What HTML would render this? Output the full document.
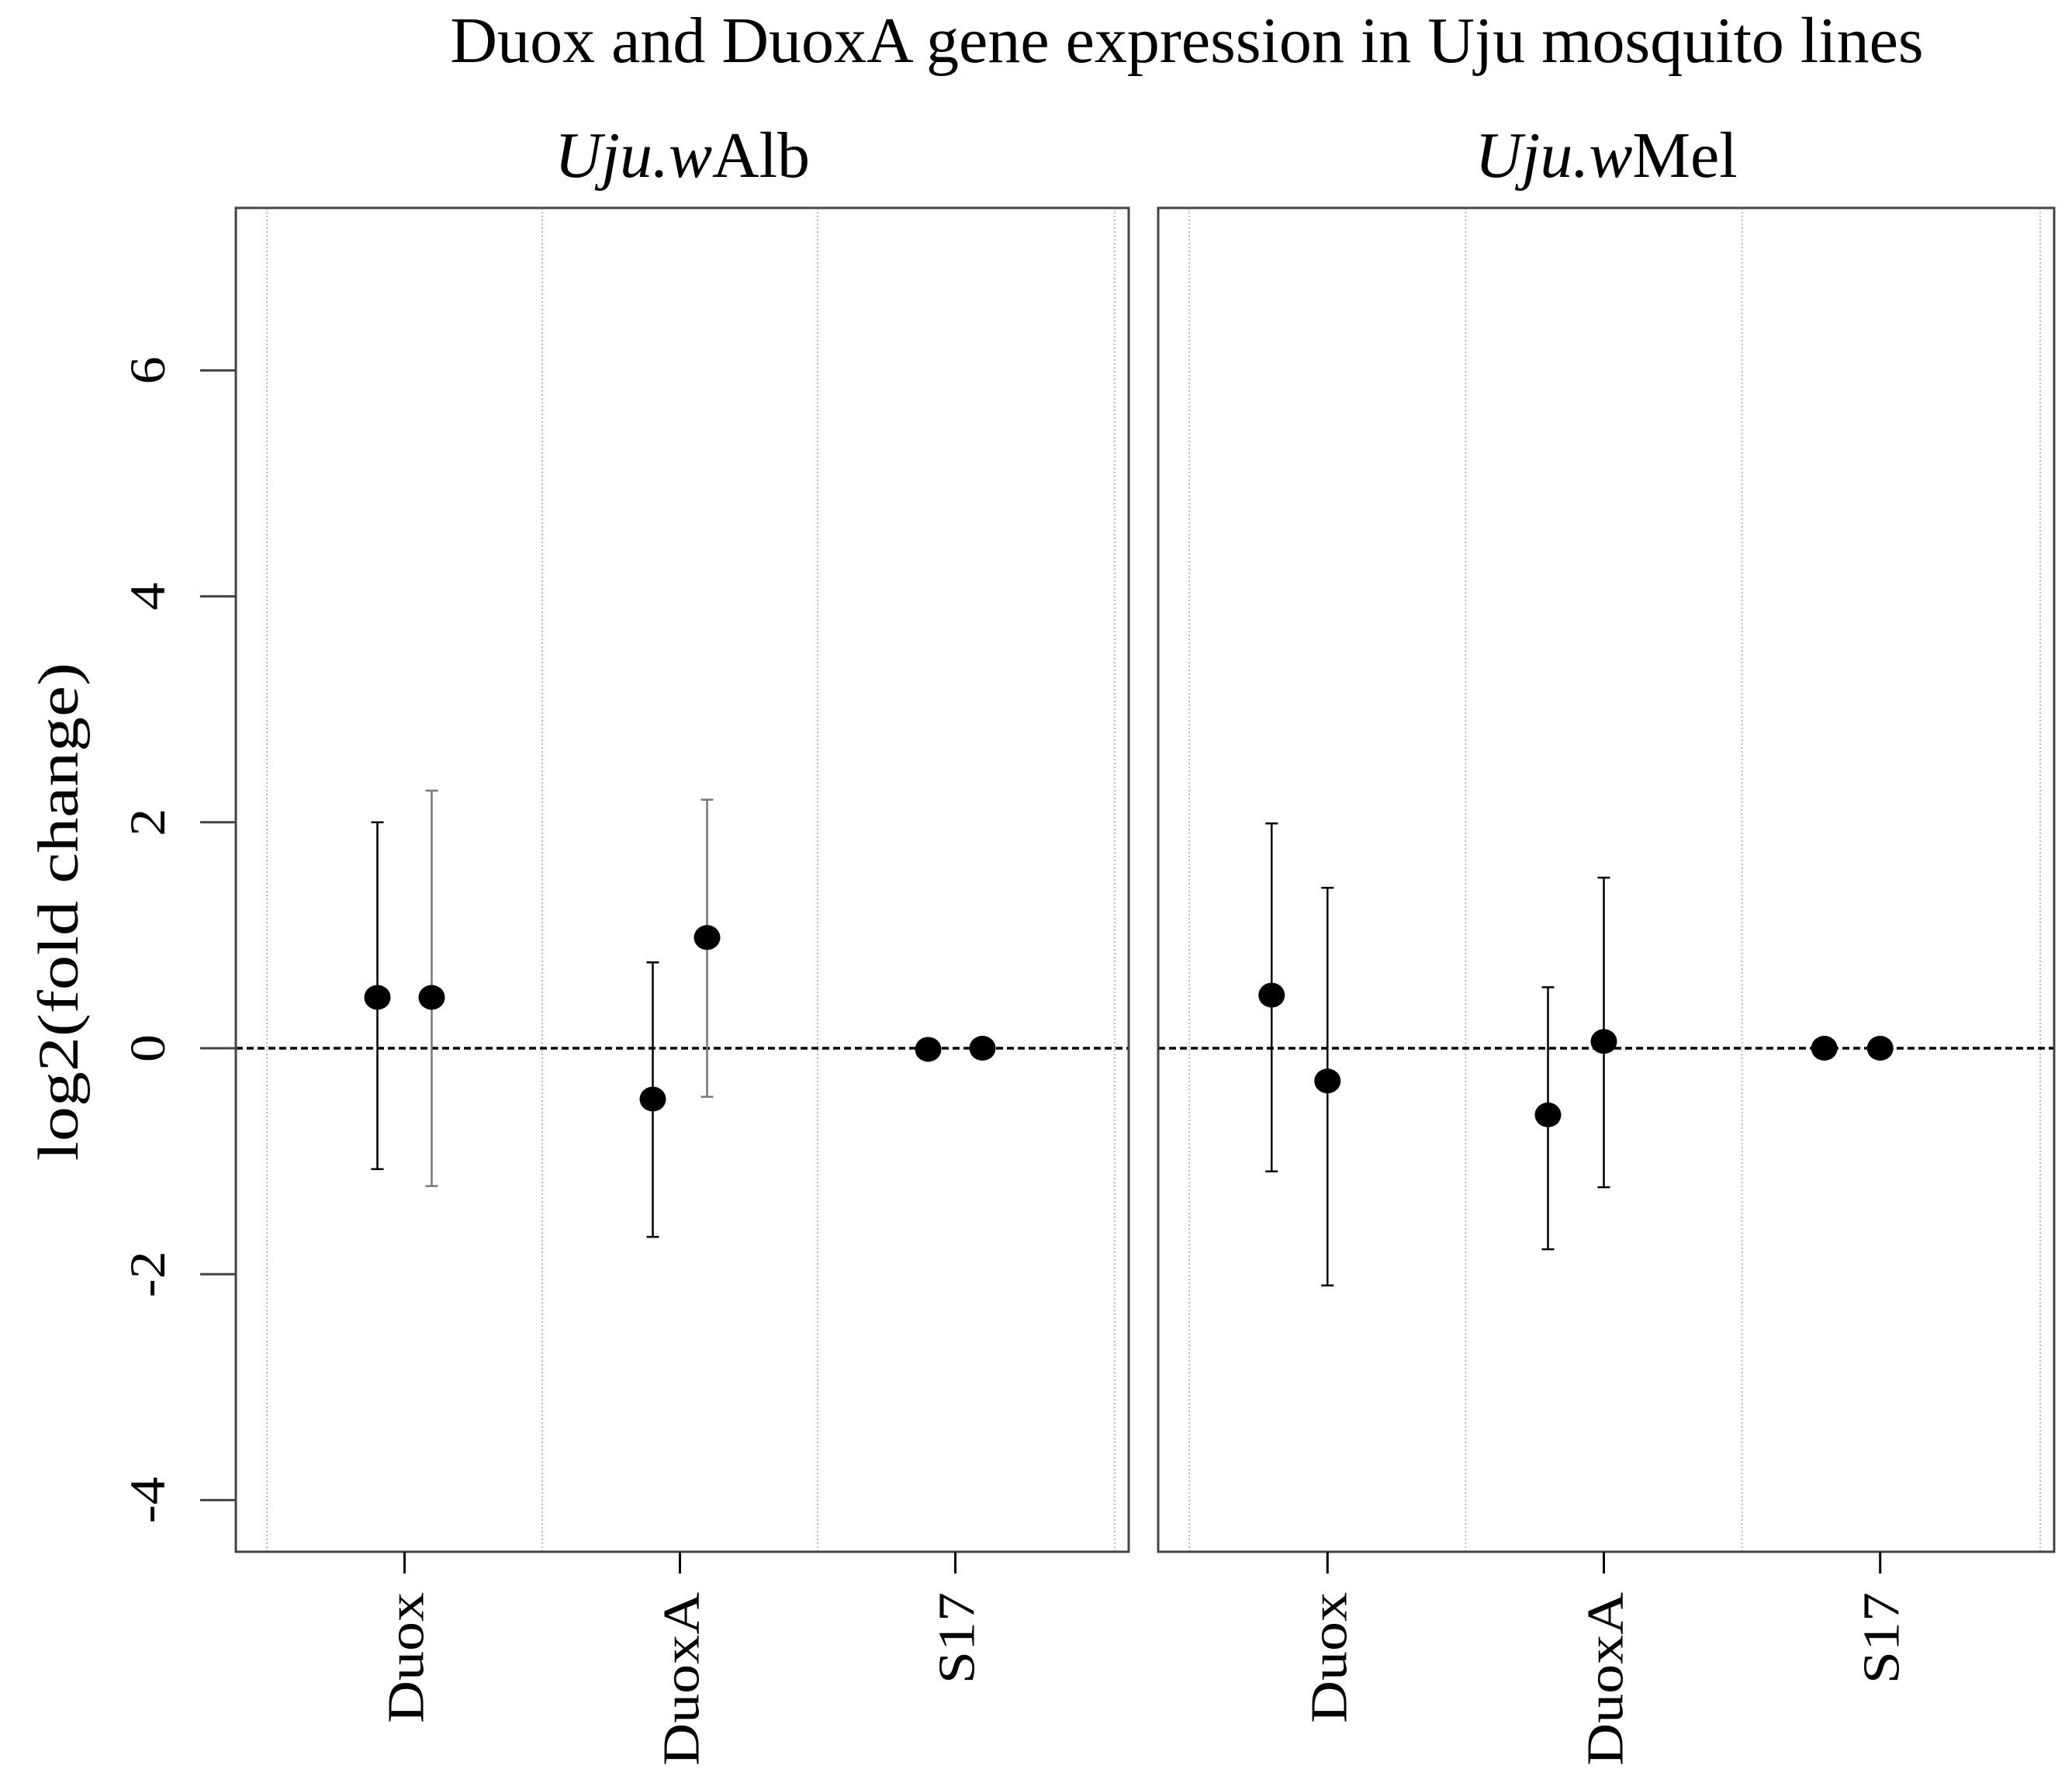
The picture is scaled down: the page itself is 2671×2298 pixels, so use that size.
<!DOCTYPE html>
<html><head><meta charset="utf-8"><style>
html,body{margin:0;padding:0;background:#fff}
svg{display:block;font-family:"Liberation Serif",serif}
</style></head><body>
<svg id="chart" width="2671" height="2298" viewBox="0 0 2671 2298" xmlns="http://www.w3.org/2000/svg">
<rect width="2671" height="2298" fill="#fff"/>
<text x="1530" y="80" font-size="84" text-anchor="middle">Duox and DuoxA gene expression in Uju mosquito lines</text>
<text transform="translate(100,1175) rotate(-90) scale(1,0.82)" font-size="90" text-anchor="middle">log2(fold change)</text>
<g id="plot"></g>
</svg>
<script>
const categories = ["Duox", "DuoxA", "S17"];
const panels = ["Alb", "Mel"];
const yTicks = [-4, -2, 0, 2, 4, 6];
const albMean1 = [0.45, -0.45, -0.01];
const albLow1 = [-1.07, -1.67, -0.09];
const albHigh1 = [2.0, 0.76, 0.07];
const albMean2 = [0.45, 0.98, 0.0];
const albLow2 = [-1.22, -0.43, -0.08];
const albHigh2 = [2.28, 2.2, 0.08];
const melMean1 = [0.47, -0.59, 0.0];
const melLow1 = [-1.09, -1.78, -0.08];
const melHigh1 = [1.99, 0.54, 0.08];
const melMean2 = [-0.29, 0.06, 0.0];
const melLow2 = [-2.1, -1.23, -0.08];
const melHigh2 = [1.42, 1.51, 0.08];

const NS = "http://www.w3.org/2000/svg";
const g = document.getElementById("plot");
function mk(tag, attrs, parent) {
  const e = document.createElementNS(NS, tag);
  for (const k in attrs) e.setAttribute(k, attrs[k]);
  (parent || g).appendChild(e);
  return e;
}
const yTop = 268, yBot = 2000;
function yScale(v) { return 1351 - v * 145.6; }
const panelBoxes = [{x0: 304, x1: 1455}, {x0: 1493, x1: 2648}];
const seriesOffsets = [[-35, 35], [-72, 0]];
const panelData = [
  [[albMean1, albLow1, albHigh1, "#000"], [albMean2, albLow2, albHigh2, "#777"]],
  [[melMean1, melLow1, melHigh1, "#000"], [melMean2, melLow2, melHigh2, "#000"]]
];

panelBoxes.forEach((b, pi) => {
  const pg = mk("g", {});
  
  
  const w = b.x1 - b.x0;
  const step = 355 * w / 1151;
  function xCat(i) { return b.x0 + 40 * w / 1151 + step * (i + 0.5); }
  const t = mk("text", {x: (b.x0 + b.x1) / 2, y: 228, "font-size": 84, "text-anchor": "middle"}, pg);
  
  
  const ti = mk("tspan", {"font-style": "italic"}, t); ti.textContent = "Uju.w";
  const tn = mk("tspan", {}, t); tn.textContent = panels[pi];
  for (let i = 0; i <= categories.length; i++) {
    const gx = i < categories.length ? b.x0 + 40 * w / 1151 + step * i : b.x1 - 18;
    const gl = mk("line", {x1: gx, x2: gx, y1: yTop, y2: yBot, stroke: "#bbb", "stroke-width": 2, "stroke-dasharray": "2,3"}, pg);
    
    
  }
  const zl = mk("line", {x1: b.x0, x2: b.x1, y1: yScale(0), y2: yScale(0), stroke: "#000", "stroke-width": 3.5, "stroke-dasharray": "9,5"}, pg);
  
  
  const bx = mk("rect", {x: b.x0, y: yTop, width: w, height: yBot - yTop, fill: "none", stroke: "#444", "stroke-width": 3}, pg);
  
  
  categories.forEach((c, i) => {
    const x = xCat(i);
    const tk = mk("line", {x1: x, x2: x, y1: yBot, y2: yBot + 28, stroke: "#000", "stroke-width": 3}, pg);
    
    
    const lb = mk("text", {transform: `translate(${x + 24},2052) rotate(-90) scale(1,0.88)`, "font-size": 76, "text-anchor": "end"}, pg);
    
    
    lb.textContent = c;
  });
  panelData[pi].forEach((s, si) => {
    const [mean, low, high, col] = s;
    const off = seriesOffsets[pi][si];
    categories.forEach((c, i) => {
      const x = xCat(i) + off;
      const eg = mk("g", {}, pg);
      
      
      mk("line", {x1: x, x2: x, y1: yScale(low[i]), y2: yScale(high[i]), stroke: col, "stroke-width": 2.5}, eg);
      mk("line", {x1: x - 8, x2: x + 8, y1: yScale(low[i]), y2: yScale(low[i]), stroke: col, "stroke-width": 2.5}, eg);
      mk("line", {x1: x - 8, x2: x + 8, y1: yScale(high[i]), y2: yScale(high[i]), stroke: col, "stroke-width": 2.5}, eg);
      const p = mk("ellipse", {cx: x, cy: yScale(mean[i]), rx: 17, ry: 16, fill: "#000"}, pg);
      
      
    });
  });
  if (pi === 0) {
    yTicks.forEach(v => {
      const y = yScale(v);
      const tk = mk("line", {x1: 258, x2: b.x0, y1: y, y2: y, stroke: "#444", "stroke-width": 3}, pg);
      
      
      const lb = mk("text", {transform: `translate(212,${y}) rotate(-90) scale(1,0.9)`, "font-size": 72, "text-anchor": "middle"}, pg);
      
      
      lb.textContent = v;
    });
  }
});
</script>
</body></html>
